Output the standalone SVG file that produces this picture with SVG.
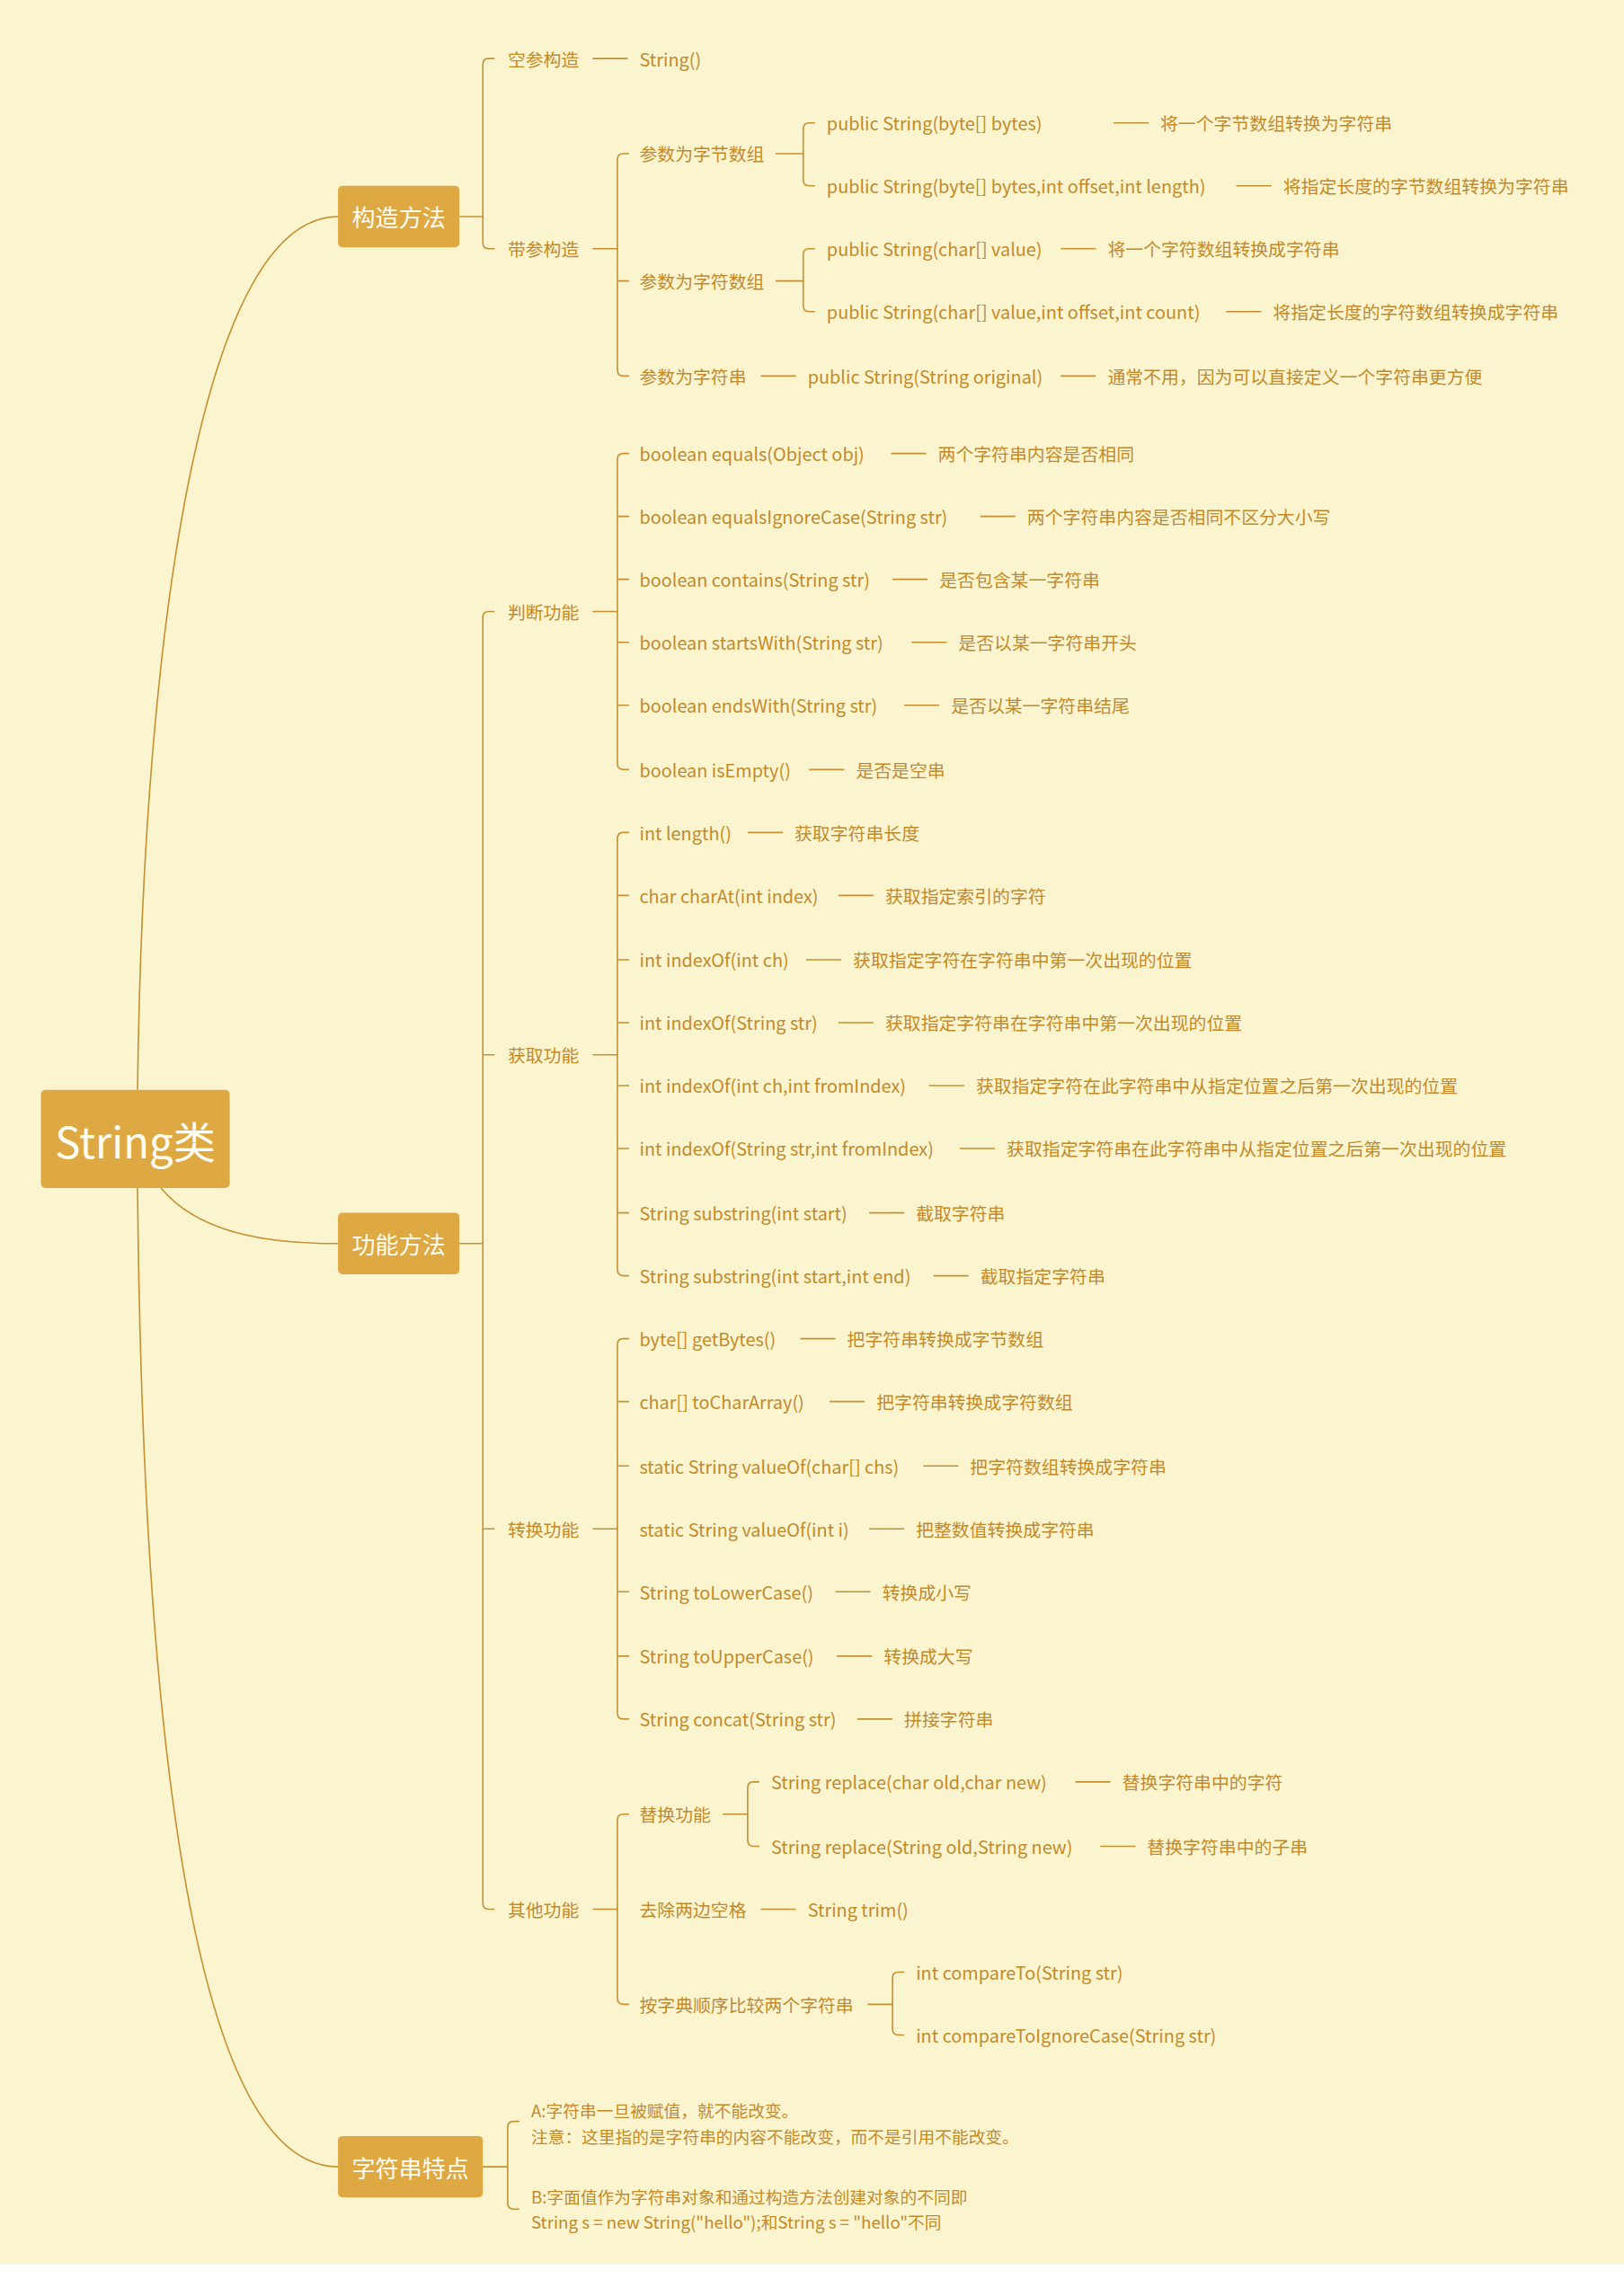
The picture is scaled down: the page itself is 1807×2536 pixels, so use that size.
<svg xmlns="http://www.w3.org/2000/svg" width="1807" height="2536" viewBox="0 0 1807 2536">
<style>
text{font-family:"Noto Sans CJK SC","Noto Sans",sans-serif;fill:#c28a2b;font-size:12.2px;dominant-baseline:central}
.c{fill:none;stroke:#c49232;stroke-width:1}
.b{fill:#dea943}
.w{fill:#fffdf2;text-anchor:middle}
</style>
<rect width="1807" height="2536" fill="#ffffff"/>
<rect width="1807" height="2520" fill="#fbf5cf"/>
<g transform="scale(1.628)">
<g id="connectors">
<path class="c" d="M94 745 C98 420 140 148 231 148"/>
<path class="c" d="M110 812 C135 842 180 850 231 850"/>
<path class="c" d="M94 812 C98 1230 140 1481 231 1481"/>
<path class="c" d="M314 148H330 M338 40H334Q330 40 330 44V166Q330 170 334 170H338"/>
<path class="c" d="M314 850H330 M338 418H334Q330 418 330 422V1301Q330 1305 334 1305H338 M330 721H338 M330 1045H338"/>
<path class="c" d="M330 1481H347 M355 1450H351Q347 1450 347 1454V1506Q347 1510 351 1510H355"/>
<path class="c" d="M405 40H429"/>
<path class="c" d="M405 170H422 M430 105H426Q422 105 422 109V253Q422 257 426 257H430 M422 192H430"/>
<path class="c" d="M530 105H549 M557 84H553Q549 84 549 88V123Q549 127 553 127H557"/>
<path class="c" d="M530 192H549 M557 170H553Q549 170 549 174V209Q549 213 553 213H557"/>
<path class="c" d="M405 418H422 M430 310H426Q422 310 422 314V522Q422 526 426 526H430 M422 353H430 M422 396H430 M422 439H430 M422 482H430"/>
<path class="c" d="M405 721H422 M430 569H426Q422 569 422 573V868Q422 872 426 872H430 M422 612H430 M422 656H430 M422 699H430 M422 742H430 M422 785H430 M422 829H430"/>
<path class="c" d="M405 1045H422 M430 915H426Q422 915 422 919V1171Q422 1175 426 1175H430 M422 958H430 M422 1002H430 M422 1088H430 M422 1132H430"/>
<path class="c" d="M405 1305H422 M430 1240H426Q422 1240 422 1244V1366Q422 1370 426 1370H430"/>
<path class="c" d="M494 1240H511 M519 1218H515Q511 1218 511 1222V1258Q511 1262 515 1262H519"/>
<path class="c" d="M593 1370H610 M618 1348H614Q610 1348 610 1352V1387Q610 1391 614 1391H618"/>
<path class="c" d="M761 84H785 M845 127H869 M725 170H749 M838 213H862 M520 257H544 M725 257H749"/>
<path class="c" d="M609 310H633 M670 353H694 M610 396H634 M623 439H647 M618 482H642 M553 526H577"/>
<path class="c" d="M511 569H535 M573 612H597 M551 656H575 M573 699H597 M635 742H659 M656 785H680 M594 829H618 M638 872H662"/>
<path class="c" d="M547 915H571 M567 958H591 M631 1002H655 M594 1045H618 M571 1088H595 M572 1132H596 M586 1175H610"/>
<path class="c" d="M735 1218H759 M752 1262H776 M520 1305H544"/>
</g>
<g id="root"><rect class="b" x="28" y="745" width="129" height="67" rx="3"/><text class="w" x="92.5" y="779" style="font-size:29px;fill:#fffdf2">String类</text></g>
<g id="gouzao"><rect class="b" x="231" y="127" width="83" height="42" rx="3"/><text class="w" x="272.5" y="148" style="font-size:16px;fill:#fffdf2">构造方法</text></g>
<g id="gongneng"><rect class="b" x="231" y="829" width="83" height="42" rx="3"/><text class="w" x="272.5" y="850" style="font-size:16px;fill:#fffdf2">功能方法</text></g>
<g id="tedian"><rect class="b" x="231" y="1460" width="99" height="42" rx="3"/><text class="w" x="280.5" y="1481" style="font-size:16px;fill:#fffdf2">字符串特点</text></g>
<g id="ctor">
<text x="347" y="40">空参构造</text><text x="437" y="40">String()</text>
<text x="347" y="170">带参构造</text>
<text x="437" y="105">参数为字节数组</text>
<text x="565" y="84">public String(byte[] bytes)</text><text x="793" y="84">将一个字节数组转换为字符串</text>
<text x="565" y="127">public String(byte[] bytes,int offset,int length)</text><text x="877" y="127">将指定长度的字节数组转换为字符串</text>
<text x="437" y="192">参数为字符数组</text>
<text x="565" y="170">public String(char[] value)</text><text x="757" y="170">将一个字符数组转换成字符串</text>
<text x="565" y="213">public String(char[] value,int offset,int count)</text><text x="870" y="213">将指定长度的字符数组转换成字符串</text>
<text x="437" y="257">参数为字符串</text><text x="552" y="257">public String(String original)</text><text x="757" y="257">通常不用，因为可以直接定义一个字符串更方便</text>
</g>
<g id="panduan">
<text x="347" y="418">判断功能</text>
<text x="437" y="310">boolean equals(Object obj)</text><text x="641" y="310">两个字符串内容是否相同</text>
<text x="437" y="353">boolean equalsIgnoreCase(String str)</text><text x="702" y="353">两个字符串内容是否相同不区分大小写</text>
<text x="437" y="396">boolean contains(String str)</text><text x="642" y="396">是否包含某一字符串</text>
<text x="437" y="439">boolean startsWith(String str)</text><text x="655" y="439">是否以某一字符串开头</text>
<text x="437" y="482">boolean endsWith(String str)</text><text x="650" y="482">是否以某一字符串结尾</text>
<text x="437" y="526">boolean isEmpty()</text><text x="585" y="526">是否是空串</text>
</g>
<g id="huoqu">
<text x="347" y="721">获取功能</text>
<text x="437" y="569">int length()</text><text x="543" y="569">获取字符串长度</text>
<text x="437" y="612">char charAt(int index)</text><text x="605" y="612">获取指定索引的字符</text>
<text x="437" y="656">int indexOf(int ch)</text><text x="583" y="656">获取指定字符在字符串中第一次出现的位置</text>
<text x="437" y="699">int indexOf(String str)</text><text x="605" y="699">获取指定字符串在字符串中第一次出现的位置</text>
<text x="437" y="742">int indexOf(int ch,int fromIndex)</text><text x="667" y="742">获取指定字符在此字符串中从指定位置之后第一次出现的位置</text>
<text x="437" y="785">int indexOf(String str,int fromIndex)</text><text x="688" y="785">获取指定字符串在此字符串中从指定位置之后第一次出现的位置</text>
<text x="437" y="829">String substring(int start)</text><text x="626" y="829">截取字符串</text>
<text x="437" y="872">String substring(int start,int end)</text><text x="670" y="872">截取指定字符串</text>
</g>
<g id="zhuanhuan">
<text x="347" y="1045">转换功能</text>
<text x="437" y="915">byte[] getBytes()</text><text x="579" y="915">把字符串转换成字节数组</text>
<text x="437" y="958">char[] toCharArray()</text><text x="599" y="958">把字符串转换成字符数组</text>
<text x="437" y="1002">static String valueOf(char[] chs)</text><text x="663" y="1002">把字符数组转换成字符串</text>
<text x="437" y="1045">static String valueOf(int i)</text><text x="626" y="1045">把整数值转换成字符串</text>
<text x="437" y="1088">String toLowerCase()</text><text x="603" y="1088">转换成小写</text>
<text x="437" y="1132">String toUpperCase()</text><text x="604" y="1132">转换成大写</text>
<text x="437" y="1175">String concat(String str)</text><text x="618" y="1175">拼接字符串</text>
</g>
<g id="qita">
<text x="347" y="1305">其他功能</text>
<text x="437" y="1240">替换功能</text>
<text x="527" y="1218">String replace(char old,char new)</text><text x="767" y="1218">替换字符串中的字符</text>
<text x="527" y="1262">String replace(String old,String new)</text><text x="784" y="1262">替换字符串中的子串</text>
<text x="437" y="1305">去除两边空格</text><text x="552" y="1305">String trim()</text>
<text x="437" y="1370">按字典顺序比较两个字符串</text>
<text x="626" y="1348">int compareTo(String str)</text>
<text x="626" y="1391">int compareToIgnoreCase(String str)</text>
</g>
<g id="tedian-text" style="font-size:11.5px">
<text x="363" y="1442" style="font-size:11.5px">A:字符串一旦被赋值，就不能改变。</text>
<text x="363" y="1460" style="font-size:11.5px">注意：这里指的是字符串的内容不能改变，而不是引用不能改变。</text>
<text x="363" y="1501" style="font-size:11.5px">B:字面值作为字符串对象和通过构造方法创建对象的不同即</text>
<text x="363" y="1518" style="font-size:11.5px">String s = new String("hello");和String s = "hello"不同</text>
</g>
</g>
</svg>
